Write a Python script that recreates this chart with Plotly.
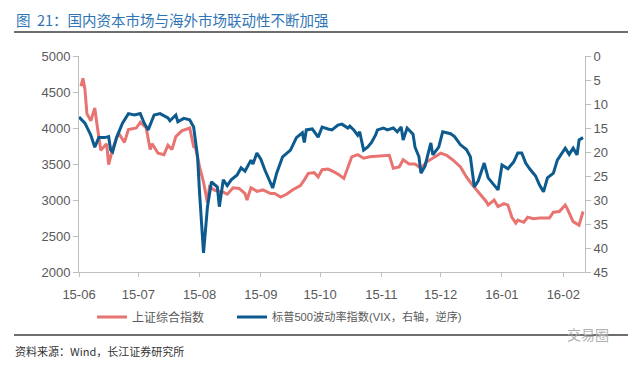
import plotly.graph_objects as go

# 上证综合指数 (left axis)
sse_dates = ["2015-06-02","2015-06-03","2015-06-04","2015-06-05","2015-06-07","2015-06-09","2015-06-10",
    "2015-06-12","2015-06-15","2015-06-16","2015-06-18","2015-06-21","2015-06-24","2015-06-26","2015-06-30",
    "2015-07-02","2015-07-05","2015-07-07","2015-07-08","2015-07-11","2015-07-14","2015-07-16","2015-07-18",
    "2015-07-20","2015-07-23","2015-07-25","2015-07-27","2015-07-29","2015-07-30","2015-08-01","2015-08-03",
    "2015-08-05","2015-08-06","2015-08-09","2015-08-13","2015-08-15","2015-08-18","2015-08-21","2015-08-24",
    "2015-08-25","2015-08-27","2015-08-30","2015-09-02","2015-09-06","2015-09-08","2015-09-11","2015-09-14",
    "2015-09-17","2015-09-21","2015-09-23","2015-09-25","2015-09-28","2015-09-30","2015-10-02","2015-10-05",
    "2015-10-08","2015-10-10","2015-10-13","2015-10-15","2015-10-17","2015-10-20","2015-10-23","2015-10-26",
    "2015-10-30","2015-11-02","2015-11-05","2015-11-07","2015-11-10","2015-11-12","2015-11-15","2015-11-18",
    "2015-11-21","2015-11-24","2015-11-27","2015-12-01","2015-12-04","2015-12-07","2015-12-11","2015-12-14",
    "2015-12-17","2015-12-20","2015-12-22","2015-12-24","2015-12-25","2015-12-28","2015-12-30","2016-01-02",
    "2016-01-04","2016-01-06","2016-01-08","2016-01-09","2016-01-12","2016-01-14","2016-01-17","2016-01-20",
    "2016-01-25","2016-01-27","2016-01-30","2016-02-02","2016-02-03","2016-02-06","2016-02-09","2016-02-11"]
sse_values = [4580,4690,4540,4200,4100,4280,4070,
    3690,3780,3490,3710,3930,3800,3980,4000,
    4080,4000,3700,3780,3650,3630,3760,3700,
    3880,3960,3980,4000,3740,3720,3460,3250,
    2960,3180,3130,3110,3080,3170,3160,3090,
    3000,3170,3120,3140,3090,3090,3040,3080,
    3140,3200,3280,3370,3380,3320,3420,3430,
    3390,3360,3300,3460,3600,3630,3580,3600,
    3610,3620,3620,3440,3460,3560,3500,3500,
    3440,3530,3580,3650,3620,3560,3460,3320,
    3210,3110,3040,2980,2930,3000,2910,2950,
    2930,2760,2680,2720,2690,2760,2740,2750,
    2750,2830,2840,2930,2880,2700,2650,2840]

# 标普500波动率指数 VIX (right axis, reversed)
vix_dates = ["2015-06-01","2015-06-04","2015-06-07","2015-06-09","2015-06-11","2015-06-14","2015-06-16",
    "2015-06-17","2015-06-18","2015-06-20","2015-06-23","2015-06-26","2015-06-29","2015-07-02","2015-07-04",
    "2015-07-06","2015-07-09","2015-07-12","2015-07-16","2015-07-17","2015-07-20","2015-07-21","2015-07-24",
    "2015-07-27","2015-07-29","2015-07-31","2015-08-01","2015-08-03","2015-08-05","2015-08-07","2015-08-10",
    "2015-08-11","2015-08-13","2015-08-15","2015-08-17","2015-08-20","2015-08-22","2015-08-24","2015-08-27",
    "2015-08-28","2015-08-30","2015-09-01","2015-09-03","2015-09-07","2015-09-09","2015-09-12","2015-09-16",
    "2015-09-19","2015-09-22","2015-09-23","2015-09-24","2015-09-27","2015-09-30","2015-10-02","2015-10-05",
    "2015-10-07","2015-10-10","2015-10-12","2015-10-15","2015-10-16","2015-10-18","2015-10-20","2015-10-21",
    "2015-10-23","2015-10-25","2015-10-27","2015-10-29","2015-10-30","2015-11-02","2015-11-04","2015-11-07",
    "2015-11-09","2015-11-11","2015-11-12","2015-11-14","2015-11-17","2015-11-18","2015-11-20","2015-11-21",
    "2015-11-23","2015-11-26","2015-11-27","2015-11-30","2015-12-02","2015-12-06","2015-12-08","2015-12-11",
    "2015-12-14","2015-12-16","2015-12-18","2015-12-20","2015-12-23","2015-12-25","2015-12-27","2015-12-30",
    "2016-01-01","2016-01-04","2016-01-07","2016-01-09","2016-01-11","2016-01-13","2016-01-15","2016-01-18",
    "2016-01-20","2016-01-22","2016-01-24","2016-01-27","2016-01-29","2016-02-01","2016-02-02","2016-02-04",
    "2016-02-06","2016-02-08","2016-02-09","2016-02-11"]
vix_values = [12.7,14.0,16.5,19.0,17.0,17.0,16.8,
    19.6,20.0,17.0,14.0,12.0,12.3,12.0,14.0,
    15.4,12.3,12.0,12.9,13.5,12.3,13.7,13.0,
    13.3,14.8,21.0,28.5,41.0,31.4,26.2,27.3,
    31.4,25.8,27.0,25.8,24.8,23.3,24.0,21.7,
    22.5,20.2,21.5,23.7,27.5,24.4,21.0,19.6,
    17.0,16.0,18.0,15.4,15.2,16.9,14.8,15.2,
    15.4,14.4,14.2,15.0,14.6,15.4,16.5,15.8,
    19.6,19.0,18.0,16.5,15.4,15.0,15.4,15.0,
    15.8,14.8,17.5,15.0,16.3,19.0,21.0,24.4,
    23.0,18.1,20.6,19.0,15.8,16.2,16.8,18.5,
    19.5,21.0,27.3,26.0,22.3,25.4,26.5,27.9,
    22.7,23.5,22.0,20.2,20.2,22.3,23.5,25.0,
    26.9,28.3,25.4,24.4,21.7,20.0,19.2,20.5,
    19.2,20.6,17.5,17.0]

month_ticks = ["2015-06-01","2015-07-01","2015-08-01","2015-09-01","2015-10-01",
               "2015-11-01","2015-12-01","2016-01-01","2016-02-01"]
month_labels = ["15-06","15-07","15-08","15-09","15-10","15-11","15-12","16-01","16-02"]

FONT = "Liberation Sans, Arial, Noto Sans CJK SC, sans-serif"
AXC = "#BFBFBF"
TXT = "#595959"

fig = go.Figure()
fig.add_trace(go.Scatter(x=sse_dates, y=sse_values, mode="lines", name="上证综合指数",
                         line=dict(color="#E87472", width=3), legend="legend"))
fig.add_trace(go.Scatter(x=vix_dates, y=vix_values, mode="lines", name="标普500波动率指数(VIX，右轴，逆序)",
                         line=dict(color="#0D5A8E", width=3), yaxis="y2", legend="legend2"))

PW, PH = 506, 216  # plot area size in px
LEG = dict(orientation="h", yanchor="middle", y=-45/PH, xanchor="left",
           bgcolor="rgba(0,0,0,0)", itemwidth=30)

fig.update_layout(
    width=640, height=368,
    margin=dict(l=71, r=63, t=48, b=104),
    paper_bgcolor="white", plot_bgcolor="white",
    font=dict(family=FONT, size=13, color=TXT),
    showlegend=True,
    legend=dict(LEG, x=(92 - 79) / PW,
                font=dict(family="Liberation Sans, Noto Sans CJK SC", size=12, color=TXT)),
    legend2=dict(LEG, x=(232 - 79) / PW,
                 font=dict(family="Liberation Sans, Noto Sans CJK SC", size=11.2, color=TXT)),
    xaxis=dict(type="date", range=["2015-06-01", "2016-02-12"], tickvals=month_ticks, ticktext=month_labels,
               showline=True, linecolor=AXC, linewidth=1, ticks="outside", tickcolor=AXC, ticklen=4,
               ticklabelstandoff=6,
               showgrid=False, zeroline=False, tickfont=dict(size=13, color=TXT)),
    yaxis=dict(range=[2000, 5000], dtick=500, showline=True, linecolor=AXC, linewidth=1,
               ticks="outside", tickcolor=AXC, ticklen=5, showgrid=False, zeroline=False,
               tickfont=dict(size=13, color=TXT)),
    yaxis2=dict(range=[45, 0], dtick=5, overlaying="y", side="right", showline=True, linecolor=AXC,
                linewidth=1, ticks="outside", tickcolor=AXC, ticklen=5, showgrid=False, zeroline=False,
                tickfont=dict(size=13, color=TXT)),
)

fig.add_annotation(text="图  21：国内资本市场与海外市场联动性不断加强", xref="paper", yref="paper",
                   x=-65/PW, y=1 + 37/PH, xanchor="left", yanchor="middle", showarrow=False,
                   font=dict(family="Noto Sans CJK SC", size=14.5, color="#2F75B5"))
fig.add_shape(type="line", xref="paper", yref="paper", x0=-65/PW, x1=549/PW,
              y0=1 + 24/PH, y1=1 + 24/PH, line=dict(color="#6E6E6E", width=2))
fig.add_shape(type="line", xref="paper", yref="paper", x0=-65/PW, x1=549/PW,
              y0=-63/PH, y1=-63/PH, line=dict(color="#6E6E6E", width=2))
fig.add_annotation(text="资料来源：Wind，长江证券研究所", xref="paper", yref="paper",
                   x=-66/PW, y=-79/PH, xanchor="left", yanchor="middle", showarrow=False,
                   font=dict(family="Noto Sans CJK SC", size=11, color="#333333"))
fig.add_annotation(text="交易圈", xref="paper", yref="paper",
                   x=532/PW, y=-62/PH, xanchor="right", yanchor="middle", showarrow=False,
                   font=dict(family="Noto Sans CJK SC", size=14, color="#B0B0B0"))

fig.write_html("out.html")
